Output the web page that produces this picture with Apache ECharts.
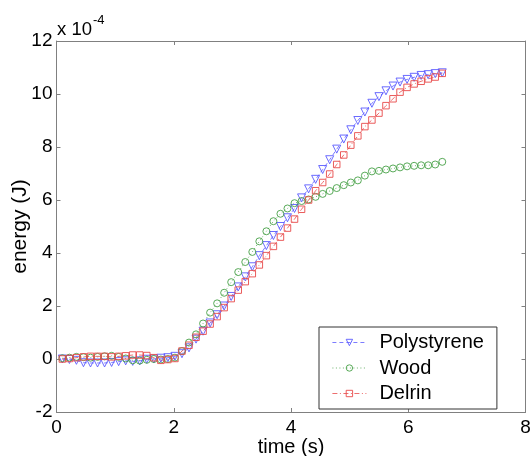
<!DOCTYPE html>
<html><head><meta charset="utf-8">
<script src="https://cdn.jsdelivr.net/npm/echarts@6/dist/echarts.min.js"></script>
<style>html,body{margin:0;padding:0;background:#fff}#c{width:531px;height:456px}</style>
</head><body><div id="c"></div>
<script>
const time = [0.10,0.22,0.34,0.46,0.58,0.70,0.82,0.94,1.06,1.18,1.30,1.42,1.54,1.66,1.78,1.90,2.02,2.14,2.26,2.38,2.50,2.62,2.74,2.86,2.98,3.10,3.22,3.34,3.46,3.58,3.70,3.82,3.94,4.06,4.18,4.30,4.42,4.54,4.66,4.78,4.90,5.02,5.14,5.26,5.38,5.50,5.62,5.74,5.86,5.98,6.10,6.22,6.34,6.46,6.58];
const polystyrene = [0.0,-0.02,-0.05,-0.14,-0.15,-0.15,-0.15,-0.13,-0.10,-0.07,-0.09,-0.07,-0.01,0.0,0.03,0.05,
  0.1,0.2,0.42,0.75,1.05,1.36,1.67,2.0,2.36,2.72,3.1,3.48,3.9,4.28,4.66,5.0,5.33,5.68,6.08,6.42,6.78,7.15,7.52,7.92,8.3,8.65,9.0,9.32,9.65,9.9,10.12,10.3,10.45,10.55,10.63,10.7,10.73,10.77,10.8];
const wood = [0.03,0.05,0.08,0.07,0.05,0.08,0.10,0.12,0.08,0.02,-0.05,-0.06,-0.03,0.0,-0.02,0.0,
  0.05,0.3,0.62,0.93,1.34,1.75,2.1,2.5,2.9,3.28,3.66,4.04,4.44,4.82,5.2,5.48,5.68,5.88,5.96,6.02,6.12,6.23,6.34,6.45,6.56,6.66,6.74,6.92,7.08,7.1,7.15,7.19,7.23,7.27,7.29,7.31,7.31,7.34,7.44];
const delrin = [0.0,0.02,0.05,0.08,0.10,0.10,0.10,0.08,0.10,0.12,0.15,0.15,0.13,0.05,-0.05,-0.02,
  0.02,0.3,0.52,0.82,1.05,1.32,1.6,1.94,2.28,2.6,2.92,3.22,3.55,3.9,4.25,4.6,4.94,5.28,5.65,6.0,6.35,6.66,6.98,7.34,7.7,8.07,8.42,8.77,9.02,9.28,9.56,9.82,10.07,10.25,10.38,10.48,10.57,10.64,10.78];
const seriesNames = ['Polystyrene','Wood','Delrin'];
const xTicks = {min:0,max:8,interval:2};
const yTicks = {min:-2,max:12,interval:2};

const FONT = 'Liberation Sans, Arial, sans-serif';
const AX = '#808080';
const pair = arr => time.map((t,i)=>[t, arr[i]]);

const chart = echarts.init(document.getElementById('c'), null, {renderer:'canvas'});
const axisCommon = {
  axisLine:{show:true,onZero:false,lineStyle:{color:AX,width:1}},
  axisTick:{show:true,inside:true,length:4,lineStyle:{color:AX}},
  splitLine:{show:false}
};
chart.setOption({
  animation:false,
  backgroundColor:'#fff',
  grid:{left:56.5,right:5.5,top:41,bottom:44,containLabel:false,outerBoundsMode:'none'},
  xAxis:[
    Object.assign({type:'value',position:'bottom',min:xTicks.min,max:xTicks.max,interval:xTicks.interval,
      name:'time (s)',nameLocation:'middle',nameGap:25,nameMoveOverlap:false,
      nameTextStyle:{fontFamily:FONT,fontSize:20,color:'#000'},
      axisLabel:{fontFamily:FONT,fontSize:19,color:'#000',margin:6}},axisCommon),
    Object.assign({type:'value',position:'top',min:xTicks.min,max:xTicks.max,interval:xTicks.interval,
      axisLabel:{show:false}},axisCommon)
  ],
  yAxis:[
    Object.assign({type:'value',position:'left',min:yTicks.min,max:yTicks.max,interval:yTicks.interval,
      name:'energy (J)',nameLocation:'middle',nameGap:26,nameRotate:90,nameMoveOverlap:false,
      nameTextStyle:{fontFamily:FONT,fontSize:21,color:'#000'},
      axisLabel:{fontFamily:FONT,fontSize:19,color:'#000',margin:4}},axisCommon),
    Object.assign({type:'value',position:'right',min:yTicks.min,max:yTicks.max,interval:yTicks.interval,
      axisLabel:{show:false}},axisCommon)
  ],
  legend:{
    orient:'vertical',left:319,top:327,
    backgroundColor:'#fff',borderColor:'#333',borderWidth:1,borderRadius:0,
    padding:[5.5,13,5.5,13],itemWidth:34,itemHeight:8,itemGap:5.5,
    lineStyle:{width:0.8},
    itemStyle:{borderWidth:0.9},
    textStyle:{fontFamily:FONT,fontSize:20,color:'#000',lineHeight:18,padding:[0,0,0,8]},
    data:seriesNames
  },
  graphic:[
    {type:'text',left:57,top:20,style:{text:'x 10',font:'18.5px '+FONT,fill:'#000'}},
    {type:'text',left:93,top:14,style:{text:'-4',font:'13px '+FONT,fill:'#000'}}
  ],
  series:[
    {name:seriesNames[0],type:'line',data:pair(polystyrene),symbol:'triangle',symbolRotate:180,symbolSize:8,
      lineStyle:{color:'#5a5aff',width:0.8,type:[4,3]},
      itemStyle:{color:'rgba(0,0,0,0)',borderColor:'#5a5aff',borderWidth:0.9}},
    {name:seriesNames[1],type:'line',data:pair(wood),symbol:'circle',symbolSize:7,
      lineStyle:{color:'#46a046',width:0.8,type:[1,2.5]},
      itemStyle:{color:'rgba(0,0,0,0)',borderColor:'#46a046',borderWidth:0.9}},
    {name:seriesNames[2],type:'line',data:pair(delrin),symbol:'rect',symbolSize:6.5,
      lineStyle:{color:'#e84a4a',width:0.8,type:[5,2.5,1,2.5]},
      itemStyle:{color:'rgba(0,0,0,0)',borderColor:'#e84a4a',borderWidth:0.9}}
  ]
});
</script></body></html>
